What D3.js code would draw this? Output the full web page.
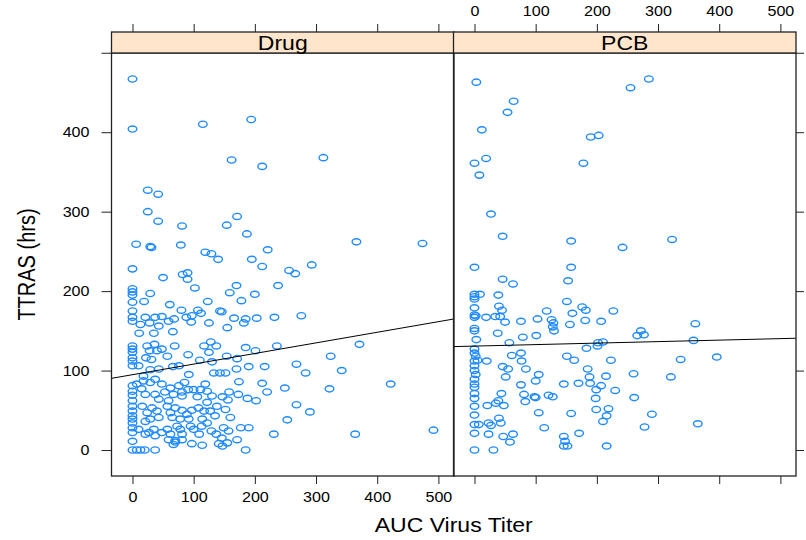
<!DOCTYPE html>
<html>
<head>
<meta charset="utf-8">
<script src="https://cdn.jsdelivr.net/npm/d3@7"></script>
<style>
  body { margin: 0; background: #fff; }
  text { font-family: "Liberation Sans", Arial, Helvetica, sans-serif; fill: #000; }
</style>
</head>
<body>
<svg id="chart" width="806" height="540"></svg>
<script>
// panels (conditioning levels)
var panels = ["Drug", "PCB"];

// AUC virus titer vs TTRAS (hrs)
var drugPoints = [
    [0,467],[0,404],[115,410],[194,416],[162,365],[212,357],[25,327],[42,322],[312,368],
    [25,300],[42,288],[81,282],[154,283],[171,294],[187,272],[6,259],[29,256],[31,255],[79,258],
    [119,249],[129,247],[140,240],[221,252],[195,240],[212,231],[0,228],[50,217],[82,221],[90,223],
    [90,215],[102,204],[170,207],[159,198],[178,188],[200,196],[238,207],[0,203],[0,199],[0,195],
    [0,186],[29,197],[19,187],[0,175],[0,167],[61,183],[80,176],[123,187],[107,176],[143,175],
    [146,174],[166,166],[185,165],[203,166],[232,167],[21,167],[37,167],[48,168],[68,165],[88,167],
    [97,169],[112,172],
    [366,262],[474,260],[256,226],[266,222],[293,233],[276,169],
    [0,162],[13,158],[28,160],[43,156],[59,162],[96,161],[125,160],[155,154],[182,160],[11,147],
    [35,147],[66,149],
    [0,131],[0,127],[0,123],[24,131],[36,133],[28,125],[40,125],[48,127],[69,131],[91,120],[117,131],
    [128,136],[137,131],[125,123],[185,129],[201,125],[236,131],
    [0,116],[0,112],[0,106],[10,106],[22,116],[31,114],[57,118],[66,105],[76,106],[110,113],[130,111],
    [154,118],[171,115],[190,105],[216,105],[170,102],[133,97],[143,97],[152,97],[29,101],[43,102],[92,95],
    [0,81],[0,74],[0,69],[7,83],[18,93],[18,87],[29,85],[37,89],[48,83],[62,78],[67,70],[76,81],[85,85],
    [91,76],[100,76],[111,76],[119,83],[122,74],[81,73],[53,73],[37,70],[21,70],[15,77],[174,86],[212,84],
    [158,73],[173,70],[188,65],[202,62],[220,73],[43,64],[59,62],[81,68],[106,67],[122,60],[130,68],
    [147,67],[156,63],
    [0,62],[0,55],[0,49],[0,43],[0,39],[16,55],[24,47],[32,53],[40,49],[57,55],[62,47],[70,53],[81,50],
    [89,45],[97,50],[108,53],[114,39],[127,49],[138,55],[152,51],[160,41],[135,43],[117,49],[65,41],
    [78,39],[92,39],[29,39],[43,41],[21,36],
    [0,34],[0,28],[0,22],[10,26],[21,20],[35,26],[48,22],[62,20],[73,30],[78,26],[81,20],[95,30],[100,26],
    [113,30],[122,34],[109,20],[129,24],[137,20],[149,28],[157,24],[146,15],[177,28],[190,28],[231,20],
    [171,13],[57,26],[27,22],[37,18],[70,12],
    [0,11],[0,0],[7,0],[13,0],[20,0],[37,0],[67,7],[70,10],[97,8],[114,6],[141,8],[147,5],[155,9],[185,0],
    [81,13],[59,13],
    [371,133],[324,118],[268,108],[283,97],[342,100],[249,78],[322,77],[422,83],[268,57],[290,48],
    [253,38],[364,20],[492,25]
];

var pcbPoints = [
    [3,463],[285,467],[255,456],[64,439],[54,425],[12,403],[190,394],[203,396],[0,361],[19,367],[8,346],
    [178,361],[27,297],[46,269],[158,263],[242,255],[323,265],[0,230],[158,230],[46,215],[63,209],[153,213],
    [0,196],[0,193],[0,190],[9,196],[39,195],[0,179],[40,181],[45,176],[118,175],[151,187],[176,180],
    [182,176],[227,175],[160,172],
    [0,170],[0,167],[2,169],[19,167],[34,168],[42,168],[50,161],[76,162],[103,165],[126,164],[129,160],
    [128,155],[130,150],[156,158],[181,163],[207,162],[361,159],[0,153],[0,150],[38,147],[79,142],[101,144],
    [57,135],[3,139],[266,144],[272,150],[277,145],[202,135],[210,136],[358,138],[183,128],[201,131],
    [0,127],[0,122],[2,118],[0,112],[5,113],[20,112],[61,119],[76,122],[77,112],[151,118],[163,113],
    [223,113],[337,114],[396,117],[0,106],[0,100],[2,95],[46,105],[55,102],[84,102],[51,92],[105,95],
    [100,87],[76,82],[146,83],[170,84],[185,102],[188,92],[215,93],[260,96],[321,92],[189,84],[207,81],
    [199,76],[230,75],[0,89],[0,83],[0,79],[0,71],[0,65],[0,55],[44,71],[81,70],[98,67],[100,66],[121,69],
    [128,67],[83,61],[21,56],[35,59],[39,62],[48,56],[198,65],[261,66],[199,51],[219,52],[105,47],[158,46],
    [216,43],[290,45],[0,44],[40,40],[23,34],[43,34],[27,31],[0,32],[7,32],[210,36],[114,28],[278,29],
    [365,33],[0,21],[23,20],[47,17],[63,20],[58,10],[146,17],[148,11],[146,5],[152,5],[171,21],[216,5],
    [0,0],[31,0]
];

// least squares lines as shown in each panel
var fitIntercept = [94.8, 130.8];
var fitSlope = [0.1335, 0.0188];

var xTicks = [0, 100, 200, 300, 400, 500];
var yTicks = [0, 100, 200, 300, 400, 500];

var xTitle = "AUC Virus Titer";
var yTitle = "TTRAS (hrs)";

// layout
var panelTop = 53, panelBottom = 476, stripTop = 32;
var panelLeft = [111.5, 453.5], panelWidth = 342.5;
var textStretch = 1.15;
var pointColor = "#1f8aff";

var svg = d3.select("#chart");

var x = d3.scaleLinear().domain([-34.3, 525.5]).range([0, panelWidth]);
var y = d3.scaleLinear().domain([-32.7, 499.7]).range([panelBottom, panelTop]);

var allPoints = [drugPoints, pcbPoints];

svg.append("defs").append("clipPath")
    .attr("id", "panelClip")
    .append("rect")
    .attr("x", 0)
    .attr("y", panelTop)
    .attr("width", panelWidth)
    .attr("height", panelBottom - panelTop);

panels.forEach(function(name, i) {
    var g = svg.append("g")
        .attr("transform", "translate(" + panelLeft[i] + ",0)");

    // points
    g.append("g")
        .selectAll("ellipse")
        .data(allPoints[i])
        .enter().append("ellipse")
        .attr("cx", function(d) { return x(d[0]); })
        .attr("cy", function(d) { return y(d[1]); })
        .attr("rx", 4.3)
        .attr("ry", 3.1)
        .style("fill", "none")
        .style("stroke", pointColor)
        .style("stroke-width", 1.4);

    // regression line
    var line = d3.line()
        .x(function(d) { return x(d); })
        .y(function(d) { return y(fitIntercept[i] + fitSlope[i] * d); });
    g.append("path")
        .attr("clip-path", "url(#panelClip)")
        .attr("d", line(x.domain()))
        .style("fill", "none")
        .style("stroke", "#000")
        .style("stroke-width", 1);

    // panel border
    g.append("rect")
        .attr("x", 0)
        .attr("y", panelTop)
        .attr("width", panelWidth)
        .attr("height", panelBottom - panelTop)
        .style("fill", "none")
        .style("stroke", "#222")
        .style("stroke-width", 1.3);

    // strip
    g.append("rect")
        .attr("x", 0)
        .attr("y", stripTop)
        .attr("width", panelWidth)
        .attr("height", panelTop - stripTop)
        .style("fill", "#ffe5cc")
        .style("stroke", "#222")
        .style("stroke-width", 1.3);

    g.append("text")
        .attr("transform", "translate(" + (panelWidth / 2) + ",50) scale(" + textStretch + ",1)")
        .attr("text-anchor", "middle")
        .style("font-size", "20px")
        .text(name);

    // bottom axis, labels on first panel only
    var bottom = g.append("g")
        .attr("class", "axis x")
        .attr("transform", "translate(0," + panelBottom + ")")
        .call(d3.axisBottom(x).tickValues(xTicks).tickSize(8).tickPadding(8)
            .tickFormat(function(d) { return i === 0 ? d : ""; }));

    // top axis, labels on second panel only
    var top = g.append("g")
        .attr("class", "axis x")
        .attr("transform", "translate(0," + stripTop + ")")
        .call(d3.axisTop(x).tickValues(xTicks).tickSize(8).tickPadding(8)
            .tickFormat(function(d) { return i === 1 ? d : ""; }));

    [bottom, top].forEach(function(ax) {
        ax.select(".domain").remove();
        ax.selectAll("line").style("stroke", "#222");
        ax.selectAll("text")
            .style("font-size", "14px")
            .attr("transform", "scale(" + textStretch + ",1)");
        ax.attr("font-family", null);
    });
});

// left axis with labels
var left = svg.append("g")
    .attr("class", "axis y")
    .attr("transform", "translate(" + panelLeft[0] + ",0)")
    .call(d3.axisLeft(y).tickValues(yTicks).tickSize(10)
        .tickFormat(function(d) { return d <= y.domain()[1] ? d : ""; }));

left.selectAll("text")
    .attr("x", null)
    .style("font-size", "14px")
    .attr("transform", "translate(-22,0) scale(" + textStretch + ",1)");

// right axis, ticks only
var right = svg.append("g")
    .attr("class", "axis y")
    .attr("transform", "translate(" + (panelLeft[1] + panelWidth) + ",0)")
    .call(d3.axisRight(y).tickValues(yTicks).tickSize(8).tickFormat(""));

[left, right].forEach(function(ax) {
    ax.select(".domain").remove();
    ax.selectAll("line").style("stroke", "#222");
    ax.attr("font-family", null);
});

// axis titles
svg.append("text")
    .attr("transform", "translate(" + ((panelLeft[0] + panelLeft[1] + panelWidth) / 2) + ",532) scale(" + textStretch + ",1)")
    .attr("text-anchor", "middle")
    .style("font-size", "20px")
    .text(xTitle);

svg.append("text")
    .attr("transform", "translate(35," + ((panelTop + panelBottom) / 2) + ") rotate(-90) scale(1," + textStretch + ")")
    .attr("text-anchor", "middle")
    .style("font-size", "20px")
    .text(yTitle);
</script>
</body>
</html>
